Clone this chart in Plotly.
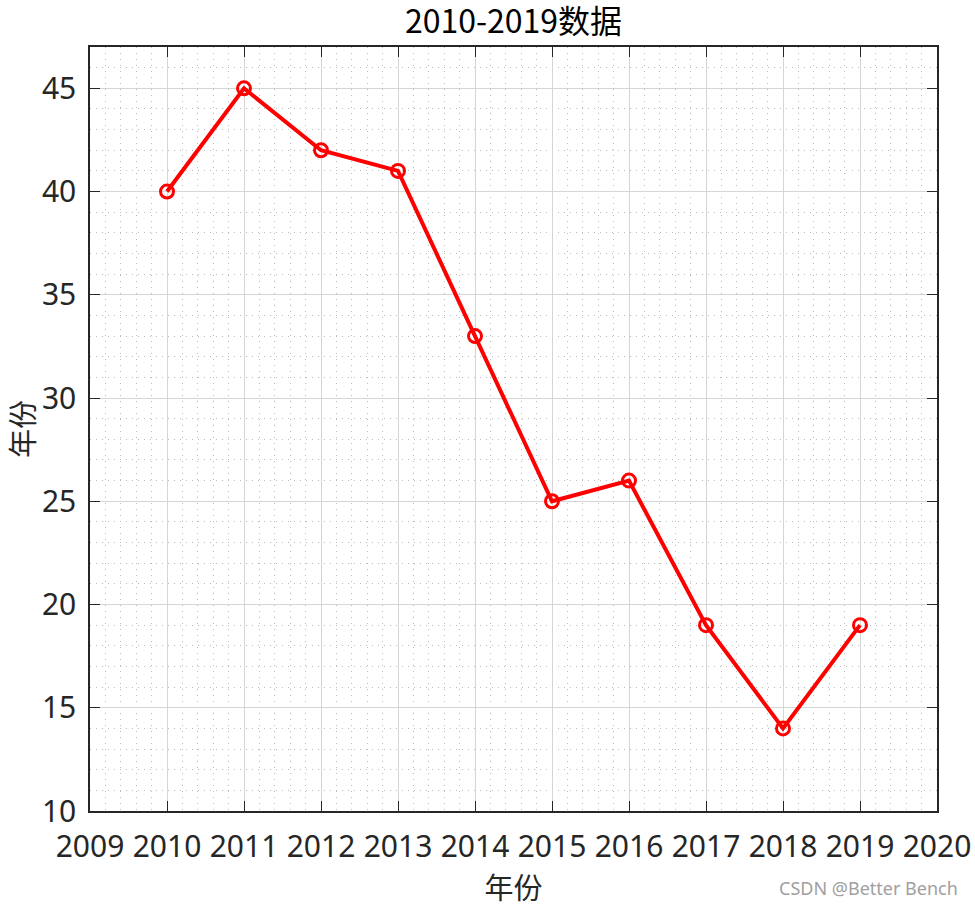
import plotly.graph_objects as go

years = [2010, 2011, 2012, 2013, 2014, 2015, 2016, 2017, 2018, 2019]
values = [40, 45, 42, 41, 33, 25, 26, 19, 14, 19]
x_ticks = list(range(2009, 2021))
y_ticks = [10, 15, 20, 25, 30, 35, 40, 45]

tick_font = "Noto Sans, Open Sans, sans-serif"
cjk_font = "Noto Sans CJK SC, Noto Sans, sans-serif"

fig = go.Figure()
fig.add_trace(go.Scatter(
    x=years, y=values, mode="lines+markers",
    line=dict(color="#ff0000", width=4),
    marker=dict(symbol="circle-open", size=13, color="#ff0000", line=dict(width=3, color="#ff0000")),
    showlegend=False,
))

axis_common = dict(
    showline=True, linecolor="#262626", linewidth=1.5, mirror="ticks",
    ticks="inside", ticklen=10, tickcolor="#262626", tickwidth=1,
    showgrid=True, gridcolor="#d6d6d6", gridwidth=1,
    zeroline=False, automargin=False,
    tickfont=dict(family=tick_font, size=30, color="#262626"),
)

minor_common = dict(showgrid=True, gridcolor="#bcbcbc", griddash="1px,5px", gridwidth=1, ticks="")

fig.update_xaxes(
    range=[2009, 2020], tickvals=x_ticks, ticktext=[str(t) for t in x_ticks],
    minor=dict(dtick=0.2, **minor_common),
    title=dict(text="年份", font=dict(family=cjk_font, size=29, color="#262626"), standoff=16),
    ticklabelstandoff=8,
    **axis_common,
)
fig.update_yaxes(
    range=[10, 47], tickvals=y_ticks, ticktext=[str(t) for t in y_ticks],
    minor=dict(dtick=1, **minor_common),
    title=dict(text="年份", font=dict(family=cjk_font, size=29, color="#262626"), standoff=18),
    ticklabelstandoff=6,
    **axis_common,
)

fig.update_layout(
    width=975, height=907,
    margin=dict(l=90, r=38, t=47, b=96),
    plot_bgcolor="white", paper_bgcolor="white",
    title=dict(text="2010-2019数据", x=0.5, xref="paper", xanchor="center", y=0.9765, yanchor="middle",
               font=dict(family=cjk_font, size=32, color="black")),
    annotations=[dict(text="CSDN @Better Bench", xref="paper", yref="paper", x=1.027, y=-0.101,
                      xanchor="right", yanchor="middle", showarrow=False,
                      font=dict(family=tick_font, size=18, color="#a0a0a0"))],
)

fig.write_html("out.html",
               config={"displayModeBar": False},
               post_script="document.body.style.margin='0';document.body.style.overflow='hidden';")
